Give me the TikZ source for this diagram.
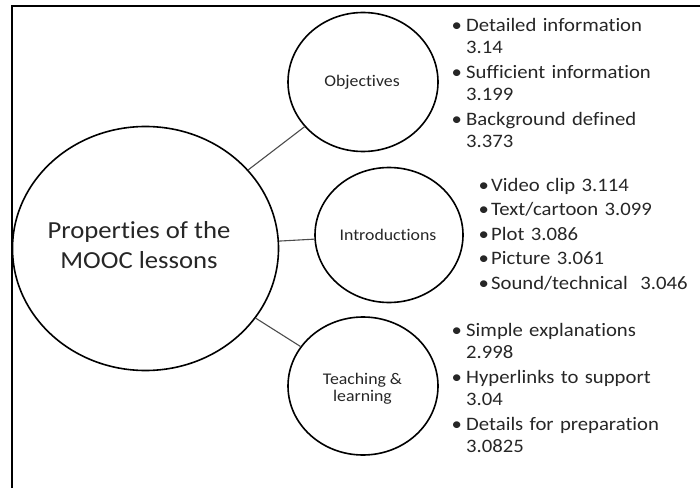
\documentclass[tikz,border=0pt]{standalone}
\usepackage{fontspec}
\setmainfont{Carlito}[FakeStretch=1.09, Ligatures=NoCommon]
\usetikzlibrary{shapes.geometric}
\tikzset{
    bubble/.style={draw=black, line width=1.6pt, ellipse, inner sep=0pt},
    link/.style={draw=black!70, line width=1.1pt},
    words/.style={text=black!85, inner sep=0pt},
    facts/.style={words, anchor=base west, text width=240pt, align=left,
        font=\fontsize{19}{22}\selectfont},
}
\newcommand{\bul}[1][12pt]{\makebox[#1][l]{\kern-2.5pt\textbullet}}

\begin{document}
\begin{tikzpicture}[x=1pt, y=1pt]
    \useasboundingbox (0,0) rectangle (700,488);
    \draw[line width=1.5pt] (12,0) -- (12,482) -- (700,482);
    \node[bubble, minimum width=266pt, minimum height=244pt] (P) at (145.5,239.5) {};
    \node[bubble, minimum width=150pt, minimum height=139pt] (O) at (363,406) {};
    \node[bubble, minimum width=148pt, minimum height=135pt] (I) at (389,253) {};
    \node[bubble, minimum width=150pt, minimum height=138pt] (T) at (363,102) {};
    \draw[link] (P) -- (O);
    \draw[link] (P) -- (I);
    \draw[link] (P) -- (T);
    \node[words, align=center, font=\fontsize{24.5}{30}\selectfont] (Ptext) at (139,243)
        {Properties of the\\MOOC lessons};
    \node[words, font=\fontsize{16.3}{17}\selectfont] (Otext) at (362,405.3) {Objectives};
    \node[words, font=\fontsize{16.3}{17}\selectfont] (Itext) at (388,253) {Introductions};
    \node[words, align=center, font=\fontsize{16.3}{17}\selectfont] (Ttext) at (362.5,99.5)
        {Teaching \&\\learning};
    \node[facts] (Olist) at (454,456)
        {\bul Detailed information\\\hspace*{12pt}3.14\\[3pt]
         \bul Sufficient information\\\hspace*{12pt}3.199\\[3pt]
         \bul Background defined\\\hspace*{12pt}3.373};
    \node[facts] (Ilist) at (481,297)
        {\bul[10pt]Video clip 3.114\\[2.5pt]
         \bul[10pt]Text/cartoon 3.099\\[2.5pt]
         \bul[10pt]Plot 3.086\\[2.5pt]
         \bul[10pt]Picture 3.061\\[2.5pt]
         \bul[10pt]Sound/technical~ 3.046};
    \node[facts] (Tlist) at (454,152)
        {\bul Simple explanations\\\hspace*{12pt}2.998\\[3pt]
         \bul Hyperlinks to support\\\hspace*{12pt}3.04\\[3pt]
         \bul Details for preparation\\\hspace*{12pt}3.0825};
\end{tikzpicture}
\end{document}
